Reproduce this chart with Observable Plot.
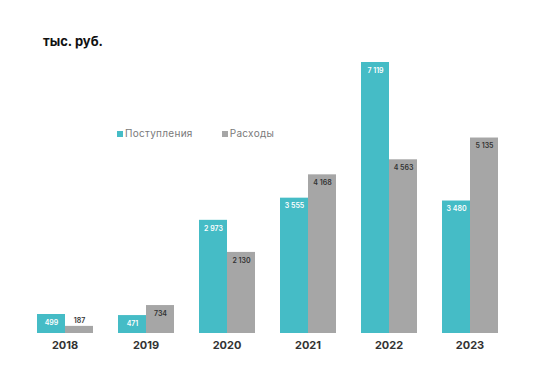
<!DOCTYPE html>
<html>
<head>
<meta charset="utf-8">
<script src="https://cdn.jsdelivr.net/npm/d3@7"></script>
<script src="https://cdn.jsdelivr.net/npm/@observablehq/plot@0.6"></script>
<style>
  body { margin: 0; background: #fff; font-family: Inter, "Open Sans", sans-serif; }
  #wrap { position: relative; width: 540px; height: 373px; }
  #title { position: absolute; left: 43px; top: 33px; font-size: 13px; font-weight: 700; color: #111; }
  #legend { position: absolute; left: 117px; top: 127px; font-size: 10px; letter-spacing: 0.3px; color: #7a7a7a; display: flex; }
  #legend div { margin-right: 29px; }
  #legend span.sw { display: inline-block; width: 6px; height: 6px; margin-right: 2px; vertical-align: 0px; }
  #chart { position: absolute; left: 0; top: 55px; }
</style>
</head>
<body>
<div id="wrap">
  <div id="title">тыс. руб.</div>
  <div id="chart"></div>
  <div id="legend"></div>
</div>
<script>
const years = ["2018", "2019", "2020", "2021", "2022", "2023"];
const incomes = [499, 471, 2973, 3555, 7119, 3480];
const expenses = [187, 734, 2130, 4168, 4563, 5135];
const seriesNames = ["Поступления", "Расходы"];
const seriesColors = ["#45bcc6", "#a6a6a6"];
const labelColors = ["#ffffff", "#333333"];

const data = years.flatMap((y, i) => [
  {year: y, series: seriesNames[0], value: incomes[i]},
  {year: y, series: seriesNames[1], value: expenses[i]}
]);

const fmt = v => d3.format(",")(v).replace(/,/g, " ");
const small = d => d.value < 300;

const chart = Plot.plot({
  width: 540,
  height: 318,
  marginLeft: 24,
  marginRight: 30,
  marginTop: 7,
  marginBottom: 40,
  style: {fontFamily: "Inter, 'Open Sans', sans-serif", fontSize: "11px", fontWeight: "700", color: "#333", background: "#fff"},
  fx: {domain: years, paddingInner: 0.3, paddingOuter: 0.15, label: null, axis: "bottom", tickSize: 0, tickPadding: 8},
  x: {domain: seriesNames, padding: 0, axis: null},
  y: {domain: [0, 7119], axis: null},
  color: {domain: seriesNames, range: seriesColors},
  marks: [
    Plot.barY(data, {fx: "year", x: "series", y: "value", fill: "series"}),
    Plot.text(data.filter(d => !small(d)), {fx: "year", x: "series", y: "value", text: d => fmt(d.value), dy: 8, fontSize: 7, fontWeight: 600,
      fill: d => labelColors[seriesNames.indexOf(d.series)]}),
    Plot.text(data.filter(small), {fx: "year", x: "series", y: "value", text: d => fmt(d.value), dy: -6, fontSize: 7, fontWeight: 600,
      fill: "#333333"})
  ]
});
document.getElementById("chart").appendChild(chart);

const legend = document.getElementById("legend");
seriesNames.forEach((s, i) => {
  const item = document.createElement("div");
  item.innerHTML = `<span class="sw" style="background:${seriesColors[i]}"></span>${s}`;
  legend.appendChild(item);
});
</script>
</body>
</html>
